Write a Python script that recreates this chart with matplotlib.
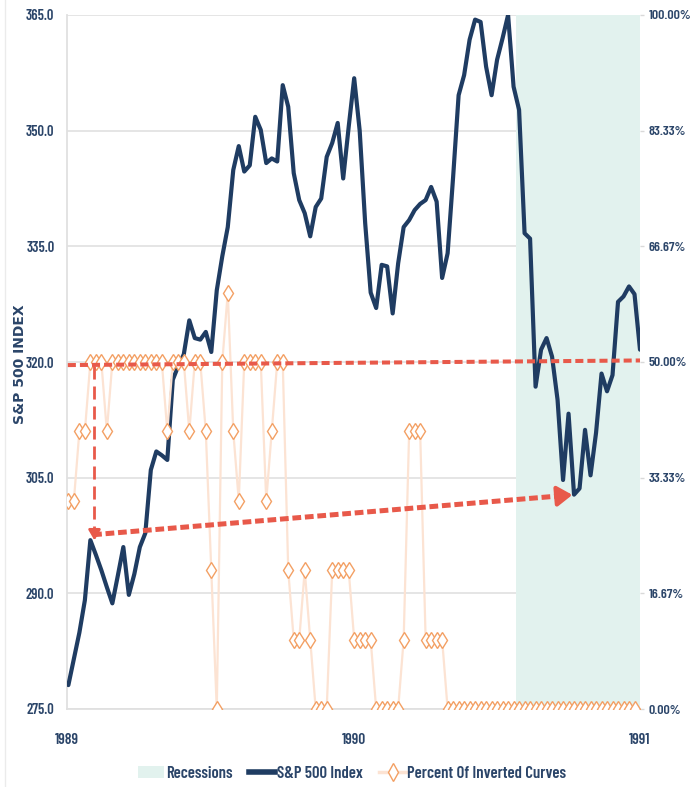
import matplotlib
matplotlib.use('Agg')
import matplotlib.pyplot as plt
from matplotlib.lines import Line2D
from matplotlib.patches import Patch

# weekly closes, first week of 1989 to last week of 1990
sp500 = [278.1, 281.5, 284.9, 289.1, 296.9, 295.0, 293.0, 290.8, 288.7, 292.3,
         296.0, 289.8, 292.5, 296.0, 297.8, 306.0, 308.4, 307.9, 307.3, 317.7,
         319.5, 321.0, 325.4, 323.1, 322.9, 323.9, 321.3, 329.3, 333.7, 337.5,
         344.9, 348.0, 344.7, 345.5, 351.8, 350.1, 345.8, 346.4, 346.0, 355.9,
         353.1, 344.5, 341.0, 339.3, 336.3, 340.1, 341.2, 346.6, 348.4, 351.0,
         343.8, 350.5, 356.8, 350.0, 338.0, 329.0, 327.0, 332.6, 332.4, 326.3,
         332.8, 337.5, 338.4, 339.7, 340.5, 341.0, 342.7, 340.8, 330.9, 334.1,
         344.0, 354.6, 357.2, 361.8, 364.4, 364.1, 358.3, 354.6, 359.2, 362.0,
         365.0, 355.7, 352.7, 336.7, 336.0, 316.8, 321.6, 323.1, 320.7, 315.1,
         304.7, 313.3, 302.8, 303.6, 311.2, 305.3, 310.8, 318.5, 316.2, 318.3,
         327.8, 328.5, 329.8, 328.8, 321.6]
weeks = list(range(len(sp500)))

# percent of the 10 curves that are inverted
inverted_pct = [30, 30, 40, 40, 50, 50, 50, 40, 50,
                50, 50, 50, 50, 50, 50, 50, 50, 50,
                40, 50, 50, 50, 40, 50, 50, 40, 20, 0, 50, 60, 40, 30,
                50, 50, 50, 50, 30, 40, 50, 50, 20, 10, 10, 20, 10, 0, 0, 0,
                20, 20, 20, 20, 10, 10, 10, 10, 0, 0, 0, 0, 0,
                10, 40, 40, 40, 10, 10, 10, 10] + [0] * 35
pct_weeks = weeks[:len(inverted_pct)]

recession_start = 81.5   # July 1990
left_ticks = [275, 290, 305, 320, 335, 350, 365]
right_ticks = [0, 1/6, 2/6, 3/6, 4/6, 5/6, 1]
year_ticks = [-0.25, 51.875, 104]
year_labels = ['1989', '1990', '1991']

threshold = 320          # level where half the curves are inverted
arrow_from = 4           # week the 50% level is first hit
arrow_to = 92            # October 1990 low

navy = '#1F3C62'
txt = '#2B4569'
red = '#E8594A'
mint = '#E2F2EE'
peach = '#FCE3D3'
orange = '#F3A064'

plt.rcParams['font.family'] = ['Barlow Condensed', 'DejaVu Sans']
plt.rcParams['font.weight'] = 'semibold'

fig = plt.figure(figsize=(6.91, 7.87), dpi=100)
ax = fig.add_axes([67/691, 1 - 709/787, 573/691, 694/787])
ax.set_xlim(-0.25, 104)
ax.set_ylim(275, 365)

ax.set_yticks(left_ticks)
ax.set_yticklabels(['%.1f' % v for v in left_ticks])
ax.yaxis.grid(True, color='#E3E3E3', lw=1.3, zorder=0)
ax.set_axisbelow(True)
for s in ['top', 'right']:
    ax.spines[s].set_visible(False)
for s in ['left', 'bottom']:
    ax.spines[s].set_color('#E0E0E0')
    ax.spines[s].set_linewidth(1.3)
ax.tick_params(axis='y', length=0, pad=9, labelsize=10.5, labelcolor=txt)
ax.set_xticks(year_ticks)
ax.set_xticklabels(year_labels)
ax.tick_params(axis='x', length=0, pad=17, labelsize=11, labelcolor=txt)

ax.axvspan(recession_start, 104, color=mint, lw=0, zorder=1)
ax.plot(weeks, sp500, color=navy, lw=3, zorder=3, solid_joinstyle='round',
        solid_capstyle='round')

ax2 = ax.twinx()
ax2.set_ylim(0, 1)
ax2.set_yticks(right_ticks)
ax2.set_yticklabels(['%.2f%%' % (v * 100) for v in right_ticks])
ax2.tick_params(axis='y', length=3, width=1, color='#D9D9D9', pad=3,
                labelsize=10, labelcolor=txt)
for s in ax2.spines.values():
    s.set_visible(False)
ax2.plot(pct_weeks, [v / 100 for v in inverted_pct], color=peach, lw=1.6,
         marker='d', ms=8.5, mfc='white', mec=orange, mew=1, zorder=2)

# annotation arrows, drawn in left-axis units
tr = ax.transData
ax2.plot([-0.1, 104], [threshold - 0.4, threshold + 0.2], color=red, lw=2.9,
         dashes=(2.0, 1.0), transform=tr, zorder=5, clip_on=False)
x0 = arrow_from + 0.75
ax2.plot([x0, x0], [threshold - 0.5, sp500[arrow_from] + 1.6], color=red,
         lw=2.0, dashes=(4.7, 2.5), transform=tr, zorder=5)
ax2.annotate('', xy=(x0, sp500[arrow_from] - 0.4), xycoords=tr,
             xytext=(x0, sp500[arrow_from] + 1.8), textcoords=tr,
             arrowprops=dict(arrowstyle='-|>,head_length=0.6,head_width=0.35',
                             color=red, lw=2), zorder=6)
xs, ys = arrow_from + 0.5, sp500[arrow_from] + 0.7
xe, ye = arrow_to + 0.2, sp500[arrow_to]
ax2.plot([xs, xe - 2.2], [ys, ye - (ye - ys) * 2.2 / (xe - xs)], color=red,
         lw=3.6, dashes=(1.75, 0.75), transform=tr, zorder=5)
ax2.annotate('', xy=(xe, ye), xycoords=tr,
             xytext=(xe - 2.3, ye - (ye - ys) * 2.3 / (xe - xs)), textcoords=tr,
             arrowprops=dict(arrowstyle='-|>,head_length=0.9,head_width=0.6',
                             color=red, lw=3), zorder=6)

fig.text(20/691, 1 - 364/787, 'S&P 500 INDEX', rotation=90, ha='center',
         va='center', fontsize=10, fontweight='bold', color=txt,
         family=['DejaVu Sans'])

handles = [Patch(facecolor=mint, edgecolor='none'),
           Line2D([], [], color=navy, lw=4),
           Line2D([], [], color=peach, lw=2.5, marker='d', ms=9,
                  mfc='white', mec=orange, mew=1)]
labels = ['Recessions', 'S&P 500 Index', 'Percent Of Inverted Curves']
fig.legend(handles, labels, loc='center', bbox_to_anchor=(352/691, 1 - 773/787),
           ncol=3, frameon=False, fontsize=12, handlelength=1.6,
           handletextpad=0.08, columnspacing=1.0, labelcolor=txt)

fig.add_artist(Line2D([5/691, 5/691], [0, 1], color='#EBEBEB', lw=1))

plt.savefig('out.png', dpi=100)
